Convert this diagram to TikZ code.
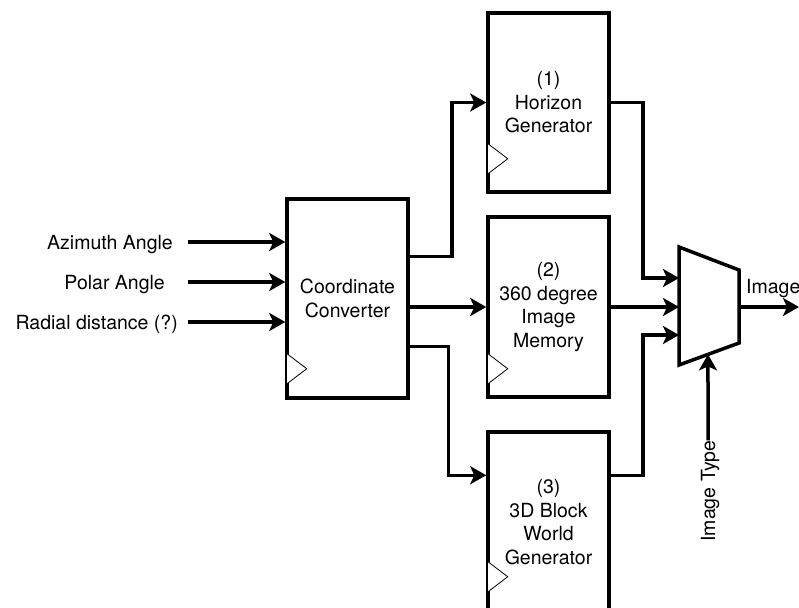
\documentclass[tikz,border=0pt]{standalone}
\usepackage{fontspec}
\setmainfont{TeX Gyre Heros}
\usetikzlibrary{arrows.meta,calc}
\begin{document}
\begin{tikzpicture}[x=1pt,y=-1pt,
  wire/.style={line width=3.5pt},
  arr/.style={wire,-{Stealth[length=16pt,width=18pt,inset=4pt]}},
  blk/.style={draw,line width=3.5pt,minimum width=121pt,inner sep=0pt,align=center,font=\fontsize{19.5}{23.5}\selectfont},
  lab/.style={inner sep=0pt,font=\fontsize{19.5}{23.5}\selectfont,text height=14pt,text depth=0pt},
  clock/.style={line width=0.8pt,fill=white}]
\useasboundingbox (0,0) rectangle (799,607);

% blocks
\node[blk,minimum height=199pt] (cc) at (347.5,298.5) {Coordinate\\Converter};
\node[blk,minimum height=179pt] (b1) at (548.5,102.5) {(1)\\Horizon\\Generator};
\node[blk,minimum height=180pt] (b2) at (548.5,307) {(2)\\360 degree\\Image\\Memory};
\node[blk,minimum height=180pt] (b3) at (548.5,522) {(3)\\3D Block\\World\\Generator};

% clock triangles
\newcommand\clk[2]{\draw[clock] ([shift={(1.75pt,#2pt)}]#1.south west) -- ([shift={(21.5pt,#2pt+15pt)}]#1.south west) -- ([shift={(1.75pt,#2pt+30pt)}]#1.south west);}
\clk{cc}{16}
\clk{b1}{20}
\clk{b2}{15}
\clk{b3}{22}

% input labels
\node[lab,anchor=east] (az) at (173,242) {Azimuth Angle};
\node[lab,anchor=east] (pa) at (165,282) {Polar Angle};
\node[lab,anchor=east] (rd) at (178,322) {Radial distance (?)};

\draw[arr] ([xshift=15pt]az.east) -- (az.east -| cc.west);
\draw[arr] ([xshift=23pt]pa.east) -- (pa.east -| cc.west);
\draw[arr] ([xshift=10pt]rd.east) -- (rd.east -| cc.west);

% converter outputs
\draw[arr] ([yshift=-59pt]cc.north east) -- ++(42,0) |- (b1.west);
\draw[arr] (cc.east |- b2.west) -- (b2.west);
\draw[arr] ([yshift=-149pt]cc.north east) -| ([shift={(-38pt,-45pt)}]b3.north west) -- ([yshift=-45pt]b3.north west);

% mux
\coordinate (m1) at (679,247);
\coordinate (m2) at (739,270);
\coordinate (m3) at (739,343);
\coordinate (m4) at (679,365);
\coordinate (mi1) at (679,278);
\coordinate (mi2) at (679,307);
\coordinate (mi3) at (679,335);
\coordinate (mo) at (739,307);
\coordinate (mb) at ($(m4)!0.483!(m3)$);
\coordinate (out) at (799,307);

\draw[arr] (b1.east) -| ([xshift=-36pt]mi1) -- (mi1);
\draw[arr] (b2.east) -- (mi2);
\draw[arr] ([yshift=-45pt]b3.north east) -| ([xshift=-36pt]mi3) -- (mi3);

\draw[wire,line join=miter] (m1) -- (m2) -- (m3) -- (m4) -- cycle;

\draw[arr] (mo) -- (out);
\node[lab,anchor=base west] (img) at (746,293) {Image};

\node[lab,rotate=90] (it) at (708,491) {Image Type};
\draw[arr] (it.east) -- (mb);
\end{tikzpicture}
\end{document}
